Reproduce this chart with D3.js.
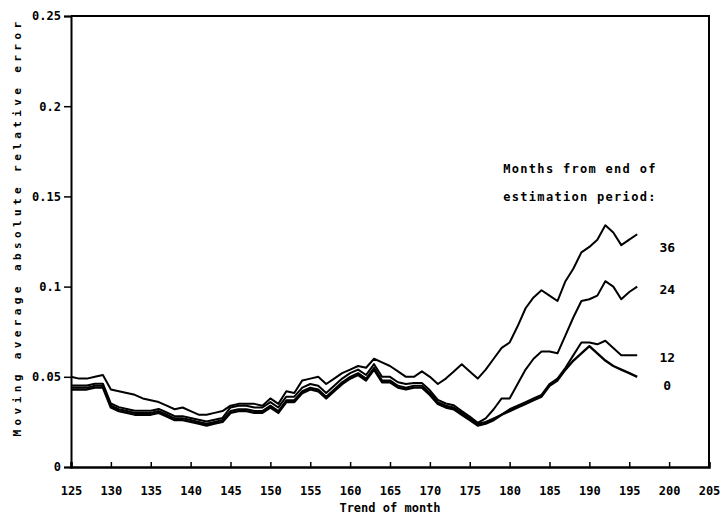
<!DOCTYPE html>
<html>
<head>
<meta charset="utf-8">
<script src="https://cdn.jsdelivr.net/npm/d3@7"></script>
<style>
  body { margin: 0; background: #fff; }
  svg text { font-family: "DejaVu Sans Mono", monospace; font-weight: bold; fill: #000; }
</style>
</head>
<body>
<svg id="chart" width="728" height="519"></svg>
<script>
// months 125 .. 196, one value per month
const firstMonth = 125;

const err36 = [
  0.050, 0.049, 0.049, 0.050, 0.051, 0.043, 0.042, 0.041, 0.040, 0.038,
  0.037, 0.036, 0.034, 0.032, 0.033, 0.031, 0.029, 0.029, 0.030, 0.031,
  0.034, 0.035, 0.035, 0.035, 0.034, 0.038, 0.035, 0.042, 0.041, 0.048,
  0.049, 0.050, 0.046, 0.049, 0.052, 0.054, 0.056, 0.055, 0.060, 0.058,
  0.056, 0.053, 0.050, 0.050, 0.053, 0.050, 0.046, 0.049, 0.053, 0.057,
  0.053, 0.049, 0.054, 0.060, 0.066, 0.069, 0.078, 0.088, 0.094, 0.098,
  0.095, 0.092, 0.103, 0.110, 0.119, 0.122, 0.126, 0.134, 0.130, 0.123,
  0.126, 0.129
];

const err24 = [
  0.0452, 0.0452, 0.0452, 0.0462, 0.0462, 0.0352, 0.0332, 0.0322, 0.0312, 0.0312,
  0.0312, 0.0322, 0.0302, 0.0282, 0.0282, 0.0272, 0.0262, 0.0252, 0.0262, 0.0272,
  0.0330, 0.0340, 0.0340, 0.0330, 0.0330, 0.0360, 0.0330, 0.0390, 0.0390, 0.0440,
  0.0460, 0.0450, 0.0410, 0.0450, 0.0490, 0.0520, 0.0540, 0.0510, 0.0570, 0.0500,
  0.0500, 0.0470, 0.0460, 0.0465, 0.0465, 0.0425, 0.0372, 0.0352, 0.0342, 0.0310,
  0.0280, 0.0245, 0.0270, 0.0320, 0.0380, 0.0380, 0.0460, 0.0540, 0.0600, 0.0640,
  0.0640, 0.0630, 0.0730, 0.0830, 0.0920, 0.0930, 0.0950, 0.1030, 0.1000, 0.0930,
  0.0970, 0.1000
];

const err12 = [
  0.044, 0.044, 0.044, 0.045, 0.045, 0.034, 0.032, 0.031, 0.030, 0.030,
  0.030, 0.031, 0.029, 0.027, 0.027, 0.026, 0.025, 0.024, 0.025, 0.026,
  0.031, 0.032, 0.032, 0.031, 0.031, 0.034, 0.031, 0.037, 0.037, 0.042,
  0.044, 0.043, 0.039, 0.043, 0.047, 0.050, 0.052, 0.049, 0.055, 0.048,
  0.048, 0.045, 0.044, 0.045, 0.045, 0.041, 0.036, 0.034, 0.033, 0.030,
  0.027, 0.024, 0.025, 0.027, 0.029, 0.032, 0.034, 0.036, 0.038, 0.040,
  0.046, 0.049, 0.055, 0.062, 0.069, 0.069, 0.068, 0.070, 0.066, 0.062,
  0.062, 0.062
];

const err0 = [
  0.043, 0.043, 0.043, 0.044, 0.044, 0.033, 0.031, 0.030, 0.029, 0.029,
  0.029, 0.030, 0.028, 0.026, 0.026, 0.025, 0.024, 0.023, 0.024, 0.025,
  0.030, 0.031, 0.031, 0.030, 0.030, 0.033, 0.030, 0.036, 0.036, 0.041,
  0.043, 0.042, 0.038, 0.042, 0.046, 0.049, 0.051, 0.048, 0.054, 0.047,
  0.047, 0.044, 0.043, 0.044, 0.044, 0.040, 0.035, 0.033, 0.032, 0.029,
  0.026, 0.023, 0.024, 0.026, 0.029, 0.031, 0.033, 0.035, 0.037, 0.039,
  0.045, 0.048, 0.054, 0.059, 0.063, 0.067, 0.063, 0.059, 0.056, 0.054,
  0.052, 0.050
];

const seriesNames = ["36", "24", "12", "0"];
const seriesValues = [err36, err24, err12, err0];

const xTicks = [125, 130, 135, 140, 145, 150, 155, 160, 165, 170, 175, 180, 185, 190, 195, 200, 205];
const yTicks = [0, 0.05, 0.1, 0.15, 0.2, 0.25];
const yTickLabels = ["0", "0.05", "0.1", "0.15", "0.2", "0.25"];

const svg = d3.select('#chart');

const x = d3.scaleLinear().domain([125, 205]).range([71, 709]);
const y = d3.scaleLinear().domain([0, 0.25]).range([467, 16]);

// frame (top and right)
svg.append('path')
  .attr('d', `M${x(125)},${y(0.25)}H${x(205)}V${y(0)}`)
  .attr('fill', 'none')
  .attr('stroke', '#000')
  .attr('stroke-width', 2);

// x axis, ticks pointing up
const xAxis = svg.append('g')
  .attr('transform', `translate(0,${y(0)})`)
  .call(d3.axisBottom(x).tickValues(xTicks).tickSize(-5).tickPadding(19).tickFormat(d3.format('d')));
xAxis.select('.domain').attr('stroke-width', 2.5);
xAxis.selectAll('.tick line').attr('stroke-width', 1.5);
xAxis.selectAll('text').attr('font-size', 12).attr('fill', '#000');

// y axis, ticks pointing out
const yAxis = svg.append('g')
  .attr('transform', `translate(${x(125)},0)`)
  .call(d3.axisLeft(y).tickValues(yTicks).tickSize(7).tickPadding(3)
    .tickFormat((d, i) => yTickLabels[i]));
yAxis.select('.domain').attr('stroke-width', 2);
yAxis.selectAll('.tick line').attr('stroke-width', 1.5);
yAxis.selectAll('text').attr('font-size', 12).attr('fill', '#000');

// lines
let line = d3.line()
  .x((d, i) => x(firstMonth + i))
  .y(d => y(d));

svg.selectAll('.errline')
  .data(seriesValues)
  .enter().append('path')
  .attr('class', 'errline')
  .attr('fill', 'none')
  .attr('stroke', '#000')
  .attr('stroke-width', (d, i) => i === 3 ? 2.4 : 2)
  .attr('stroke-linejoin', 'round')
  .attr('d', line);

// line labels at the right end
const labelDy = [13, 2, 2, 8];
svg.selectAll('.lbl')
  .data(seriesValues)
  .enter().append('text')
  .attr('class', 'lbl')
  .attr('x', d => x(firstMonth + d.length - 1) + 30)
  .attr('y', (d, i) => y(d[d.length - 1]) + labelDy[i] + 5)
  .attr('text-anchor', 'middle')
  .attr('font-size', 13)
  .text((d, i) => seriesNames[i]);

// legend title
svg.append('text')
  .attr('x', 580).attr('y', 173)
  .attr('text-anchor', 'middle')
  .attr('font-size', 12)
  .attr('letter-spacing', 1.3)
  .text('Months from end of');
svg.append('text')
  .attr('x', 580).attr('y', 201)
  .attr('text-anchor', 'middle')
  .attr('font-size', 12)
  .attr('letter-spacing', 1.3)
  .text('estimation period:');

// axis titles
svg.append('text')
  .attr('x', x(165)).attr('y', 512)
  .attr('text-anchor', 'middle')
  .attr('font-size', 12)
  .text('Trend of month');

svg.append('text')
  .attr('transform', 'translate(21,227) rotate(-90)')
  .attr('text-anchor', 'middle')
  .attr('font-size', 11)
  .attr('letter-spacing', 4.4)
  .text('Moving average absolute relative error');
</script>
</body>
</html>
